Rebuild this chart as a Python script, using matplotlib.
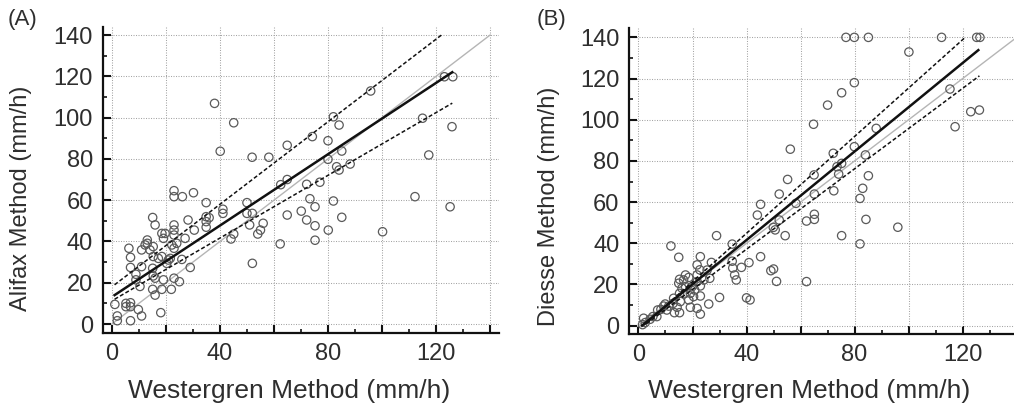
import matplotlib
matplotlib.use("Agg")
import matplotlib.pyplot as plt
from matplotlib.ticker import MultipleLocator
from matplotlib import font_manager

plt.rcParams['font.family'] = ['Liberation Sans', 'DejaVu Sans']

# ---------------- data: panel A (Alifax vs Westergren) ----------------
a_x = [38.0, 45.1, 40.1, 51.9, 58.1, 64.9, 64.9,
       74.2, 82.0, 84.1, 80.0, 80.0, 85.1, 83.2, 84.1, 88.2, 95.8, 115.0, 117.3, 123.1, 126.2, 125.9,
       77.0, 62.5, 72.1, 73.3, 75.2, 82.0, 70.1, 64.9, 72.1, 75.2, 85.1, 80.1, 75.2, 62.3, 100.2, 112.2, 125.2,
       23.0, 23.0, 26.1, 30.2, 34.9, 41.1, 41.1, 50.0, 50.0, 52.0, 51.0, 56.0, 55.0, 54.0, 52.0, 45.1, 44.1,
       34.9, 34.9, 34.9, 36.0, 30.5, 28.2, 27.1, 23.0, 23.0, 23.0, 23.0, 24.0, 22.2, 19.7, 18.5, 19.1,
       16.0, 15.1, 13.1, 13.1, 12.3, 15.3, 11.0, 14.1, 15.3, 17.2, 18.5, 21.6, 25.9, 29.0, 20.9, 20.3,
       6.3, 6.9, 6.9, 11.0, 8.9, 8.9, 10.4, 15.1, 15.3, 16.0, 15.1, 16.0, 18.5, 19.1, 22.0, 23.0, 25.0,
       18.1, 1.1, 5.2, 5.2, 6.9, 6.9, 9.8, 11.0, 2.0, 2.0, 6.9]
a_y = [106.9, 97.5, 83.7, 80.8, 80.8, 86.6, 70.0,
       90.8, 100.4, 96.4, 88.8, 79.8, 83.8, 76.2, 74.6, 77.5, 112.9, 99.7, 81.9, 119.8, 119.8, 95.6,
       68.7, 67.5, 67.7, 60.7, 56.8, 59.6, 54.7, 52.8, 50.4, 47.6, 51.7, 45.5, 40.6, 38.8, 44.7, 61.7, 56.8,
       64.6, 61.7, 61.7, 63.6, 58.8, 55.6, 53.6, 58.8, 53.6, 53.6, 48.0, 48.8, 45.5, 43.6, 29.4, 43.6, 41.2,
       52.0, 49.6, 46.9, 51.5, 45.5, 50.4, 41.5, 48.0, 45.5, 43.1, 36.7, 39.1, 38.3, 43.9, 43.9, 41.5,
       48.0, 51.6, 40.7, 39.1, 38.3, 37.5, 35.9, 35.9, 32.7, 31.8, 32.7, 31.8, 31.3, 27.4, 31.0, 29.4,
       36.7, 32.3, 27.4, 27.8, 24.1, 21.4, 18.2, 27.0, 23.3, 22.2, 16.8, 14.0, 16.8, 21.4, 16.8, 22.2, 20.5,
       5.5, 9.5, 10.0, 8.4, 8.4, 10.3, 7.0, 3.9, 3.9, 1.6, 1.6]

# regression (solid) and 95% CI (dashed) lines, panel A
a_fit_x = [1.0, 126.0]
a_fit_y = [14.0, 122.0]
a_upper_x = [1.0, 122.0]
a_upper_y = [19.0, 140.0]
a_lower_x = [1.0, 126.0]
a_lower_y = [12.0, 107.0]

# ---------------- data: panel B (Diesse vs Westergren) ----------------
b_x = [76.8, 79.9, 85.1, 112.2, 125.2, 126.4,
       100.1, 79.9, 75.2, 70.0, 64.8, 56.2, 88.0, 115.3, 123.0, 126.2, 117.2, 79.9, 72.1, 84.0, 75.2, 73.5,
       74.1, 65.0, 85.1, 55.2,
       83.0, 82.0, 72.3, 65.1, 65.1, 65.1, 62.2, 84.2, 96.0, 75.2, 82.0, 62.2, 58.3,
       52.1, 45.2, 44.0, 52.1, 49.9, 50.6, 54.3, 45.2, 34.7, 34.7, 34.9, 35.6, 36.2, 38.1, 40.9, 49.0, 50.0,
       51.1, 40.0, 41.3, 28.9, 30.0, 26.0, 27.0, 22.9, 21.7, 22.7, 21.7, 21.7, 22.9, 21.7, 22.9, 19.2,
       20.8, 22.9, 24.2, 26.4, 25.4, 12.0, 14.9, 15.2, 14.9, 16.7, 17.4, 17.4, 18.6, 16.1, 15.2, 17.0,
       19.2, 18.6, 20.4, 15.5, 13.0, 12.8, 14.3, 15.2, 13.3, 11.2, 9.9, 9.3, 10.5, 8.3, 7.1, 6.8, 5.3,
       4.3, 1.9, 2.5, 1.5, 19.8]
b_y = [140.0, 140.0, 140.0, 140.0, 140.0, 140.0,
       132.9, 118.0, 113.1, 107.1, 97.8, 85.7, 95.8, 114.9, 103.9, 104.7, 96.6, 86.9, 83.7, 82.9, 78.8, 77.2,
       73.6, 73.2, 72.8, 71.0,
       66.7, 61.8, 65.5, 63.9, 54.1, 51.6, 50.8, 51.6, 47.8, 43.7, 39.7, 21.4, 59.4,
       63.9, 58.9, 53.7, 51.3, 47.7, 46.5, 43.7, 33.5, 39.6, 31.3, 28.0, 24.6, 22.2, 28.3, 30.6, 26.7, 27.5,
       21.5, 13.5, 12.5, 43.7, 13.7, 10.5, 30.7, 33.5, 29.5, 27.1, 24.6, 21.4, 14.4, 8.4, 5.6, 8.9,
       17.3, 19.3, 22.2, 23.0, 27.0, 38.7, 33.2, 22.5, 20.6, 22.2, 24.6, 19.0, 23.4, 18.2, 15.7, 15.5,
       15.7, 12.5, 14.1, 11.7, 13.3, 10.8, 8.9, 6.3, 6.3, 9.5, 10.5, 9.5, 7.6, 7.9, 7.6, 4.4, 4.4,
       3.1, 3.6, 1.5, 0.5, 18.9]

b_fit_x = [1.3, 125.8]
b_fit_y = [0.0, 133.8]
b_upper_x = [2.0, 120.6]
b_upper_y = [0.2, 139.6]
b_lower_x = [3.0, 126.2]
b_lower_y = [1.0, 121.3]

identity = [0, 140]
x_ticks = [0, 20, 40, 60, 80, 100, 120, 140]
x_ticklabels = ['0', '', '40', '', '80', '', '120', '']
y_ticks = [0, 20, 40, 60, 80, 100, 120, 140]

panels = [
    dict(x=a_x, y=a_y, fit=(a_fit_x, a_fit_y), up=(a_upper_x, a_upper_y), lo=(a_lower_x, a_lower_y),
         ylabel="Alifax Method (mm/h)", tag="(A)"),
    dict(x=b_x, y=b_y, fit=(b_fit_x, b_fit_y), up=(b_upper_x, b_upper_y), lo=(b_lower_x, b_lower_y),
         ylabel="Diesse Method (mm/h)", tag="(B)"),
]

# a narrow sans for the (vertically compressed-looking) y labels, if installed
_installed = {f.name for f in font_manager.fontManager.ttflist}
if 'Liberation Sans Narrow' in _installed:
    ylab_font = dict(family=['Liberation Sans Narrow', 'DejaVu Sans'], size=19)
else:
    ylab_font = dict(family=['Liberation Sans', 'DejaVu Sans'], size=17)

W, H = 1014, 412
fig = plt.figure(figsize=(W / 100, H / 100), dpi=100)

# axes boxes in pixels: left, top(spine), right, bottom(spine)
boxes = [(102.7, 27.0, 499.0, 333.3), (629.3, 28.3, 1025.6, 334.3)]
ylims = [(-4.5, 143.9), (-4.2, 144.4)]
xlim = (-3.4, 143.3)
ylabel_px = [(21, 198), (549, 206)]
xlabel_px = [(289, 391), (809, 391)]
tag_px = [(8, 9), (537, 9)]

txt_col = '#2e2e2e'
for p, box, yl, ylp, xlp, tp in zip(panels, boxes, ylims, ylabel_px, xlabel_px, tag_px):
    l, t, r, b = box
    ax = fig.add_axes([l / W, (H - b) / H, (r - l) / W, (b - t) / H])
    ax.set_xlim(*xlim)
    ax.set_ylim(*yl)
    for s in ('top', 'right'):
        ax.spines[s].set_visible(False)
    for s in ('left', 'bottom'):
        ax.spines[s].set_linewidth(1.6)
        ax.spines[s].set_color('#111111')

    ax.set_xticks(x_ticks)
    ax.set_xticklabels(x_ticklabels)
    ax.set_yticks(y_ticks)
    ax.xaxis.set_minor_locator(MultipleLocator(10))
    ax.yaxis.set_minor_locator(MultipleLocator(10))
    ax.tick_params(which='major', direction='in', length=6, width=1.5, color='#111111',
                   labelsize=17, labelcolor=txt_col, pad=7)
    ax.tick_params(which='minor', direction='in', length=3, width=1.2, color='#111111')
    ax.grid(True, which='major', linestyle=(0, (1, 1.4)), color='#a5a5a5', linewidth=0.75)
    ax.set_axisbelow(True)

    ax.plot(identity, identity, color='#b5b5b5', linewidth=1.0, zorder=2)
    ax.scatter(p['x'], p['y'], s=36, facecolors='none', edgecolors='#5a5a5a', linewidths=0.9, zorder=3,
               clip_on=False)
    ax.plot(*p['fit'], color='#111111', linewidth=1.8, zorder=4)
    ax.plot(*p['up'], color='#111111', linewidth=1.1, linestyle=(0, (2.6, 1.5)), zorder=4)
    ax.plot(*p['lo'], color='#111111', linewidth=1.1, linestyle=(0, (2.6, 1.5)), zorder=4)

    ax.set_ylabel(p['ylabel'], color=txt_col, ha='center', va='center', **ylab_font)
    ax.yaxis.set_label_coords((ylp[0] - l) / (r - l), (b - ylp[1]) / (b - t))
    ax.set_xlabel("Westergren Method (mm/h)", fontsize=19, color=txt_col, ha='center', va='center')
    ax.xaxis.set_label_coords((xlp[0] - l) / (r - l), (b - xlp[1]) / (b - t))

    fig.text(tp[0] / W, 1 - tp[1] / H, p['tag'], fontsize=16, color=txt_col, ha='left', va='top')

fig.savefig('out.png', dpi=100)
